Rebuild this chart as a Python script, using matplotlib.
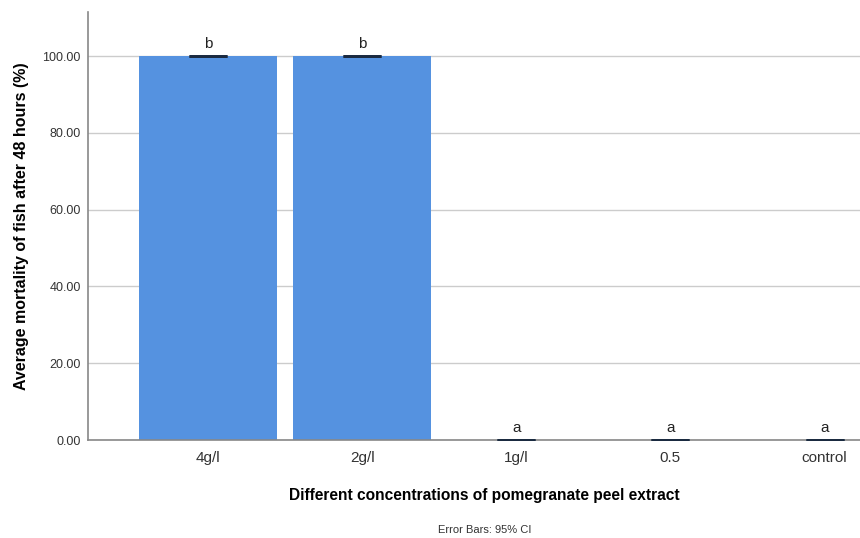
import matplotlib
matplotlib.use("Agg")
import matplotlib.pyplot as plt

plt.rcParams['font.family'] = ['Liberation Sans', 'DejaVu Sans']

# Data
groups = ["4g/l", "2g/l", "1g/l", "0.5", "control"]
mortality = [100.0, 100.0, 0.0, 0.0, 0.0]
ci_err = [0.0, 0.0, 0.0, 0.0, 0.0]
letters = ["b", "b", "a", "a", "a"]
y_ticks = [0, 20, 40, 60, 80, 100]

fig = plt.figure(figsize=(8.6, 5.38), dpi=100)
ax = fig.add_axes([0.102, 0.182, 0.898, 0.796])

x = range(len(groups))
ax.bar(x, mortality, width=0.9, color="#5592e0", zorder=2)
ax.errorbar(x, mortality, yerr=ci_err, fmt="none", ecolor="#1a2a40",
            capsize=14, capthick=2, elinewidth=1, zorder=3)

# significance letters
for xi, v, lab in zip(x, mortality, letters):
    ax.text(xi, v + 1.2, lab, ha="center", va="bottom", fontsize=11, color="#222222")

ax.set_xlim(-0.78, 4.23)
ax.set_ylim(0, 111.5)
ax.set_yticks(y_ticks)
ax.set_yticklabels([f"{t:.2f}" for t in y_ticks])
ax.set_xticks(list(x))
ax.set_xticklabels(groups)
ax.tick_params(axis="x", length=0, labelsize=11, colors="#333333", pad=8)
ax.tick_params(axis="y", length=0, labelsize=9, colors="#333333", pad=5)
ax.yaxis.grid(True, color="#cccccc", linewidth=1, zorder=0)
ax.set_axisbelow(True)

for s in ["top", "right"]:
    ax.spines[s].set_visible(False)
ax.spines["left"].set_color("#888888")
ax.spines["bottom"].set_color("#888888")
ax.spines["left"].set_linewidth(1.2)
ax.spines["bottom"].set_linewidth(1.2)

ax.set_xlabel("Different concentrations of pomegranate peel extract",
              fontsize=11.2, fontweight="bold", va="center")
ax.xaxis.set_label_coords(0.514, -0.1285)
ax.set_ylabel("Average mortality of fish after 48 hours (%)",
              fontsize=11.5, fontweight="bold", labelpad=10)

fig.text(485 / 860, 1 - 530 / 538, "Error Bars: 95% CI", ha="center",
         va="center", fontsize=8, color="#333333")

plt.savefig("out.png", dpi=100)
